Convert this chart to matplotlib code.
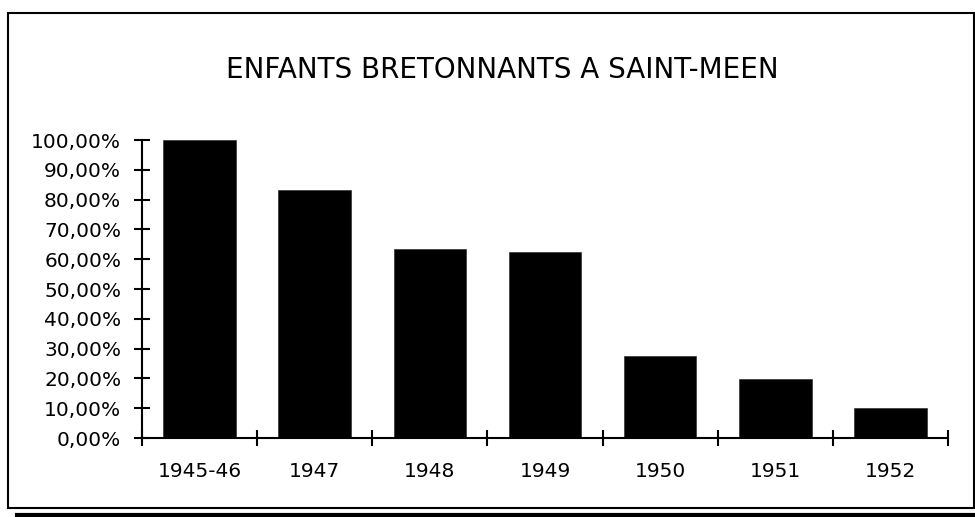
import numpy as np
import matplotlib.pyplot as plt
from matplotlib.patches import Rectangle
from matplotlib.lines import Line2D
from matplotlib.ticker import FixedLocator, FuncFormatter

# data
years = ["1945-46", "1947", "1948", "1949", "1950", "1951", "1952"]
shares = [100.0, 83.2, 63.4, 62.5, 27.4, 19.8, 10.1]
title = "ENFANTS BRETONNANTS A SAINT-MEEN"

plt.rcParams['font.family'] = ['DejaVu Sans']

fig = plt.figure(figsize=(9.75, 5.17), dpi=100)
ax = fig.add_axes([0.1456, 0.1528, 0.8267, 0.5764])

x = np.arange(len(years))
ax.bar(x, shares, width=0.63, color='black', edgecolor='#333333', linewidth=0.5)

ax.set_xlim(-0.5, len(years) - 0.5)
ax.set_ylim(0, 100)

# major ticks on category boundaries, labels centred on minor ticks
ax.xaxis.set_major_locator(FixedLocator(np.arange(len(years) + 1) - 0.5))
ax.xaxis.set_major_formatter(FuncFormatter(lambda v, p: ""))
ax.set_xticks(x, minor=True)
ax.set_xticklabels(years, minor=True, fontsize=14.5)
ax.tick_params(axis='x', which='minor', length=0, pad=17)
ax.tick_params(axis='x', which='major', direction='inout', length=11, width=1.5)

ax.set_yticks(np.arange(0, 101, 10))
ax.yaxis.set_major_formatter(FuncFormatter(lambda v, p: f"{v:.2f}%".replace(".", ",")))
ax.tick_params(axis='y', direction='inout', length=12, width=1.5, labelsize=14.5, pad=9)

for s in ['top', 'right']:
    ax.spines[s].set_visible(False)
for s in ['left', 'bottom']:
    ax.spines[s].set_linewidth(1.5)

fig.text(0.515, 0.865, title, ha='center', va='center', fontsize=20)

# frame around the chart and the heavy rule underneath
fig.add_artist(Rectangle((8 / 975, 1 - 508 / 517), 966 / 975, 495 / 517,
                         transform=fig.transFigure, fill=False, edgecolor='black', linewidth=1.5))
fig.add_artist(Line2D([17 / 975, 1.0], [1 - 515 / 517, 1 - 515 / 517],
                      transform=fig.transFigure, color='black', linewidth=3))

fig.savefig("out.png", dpi=100)
